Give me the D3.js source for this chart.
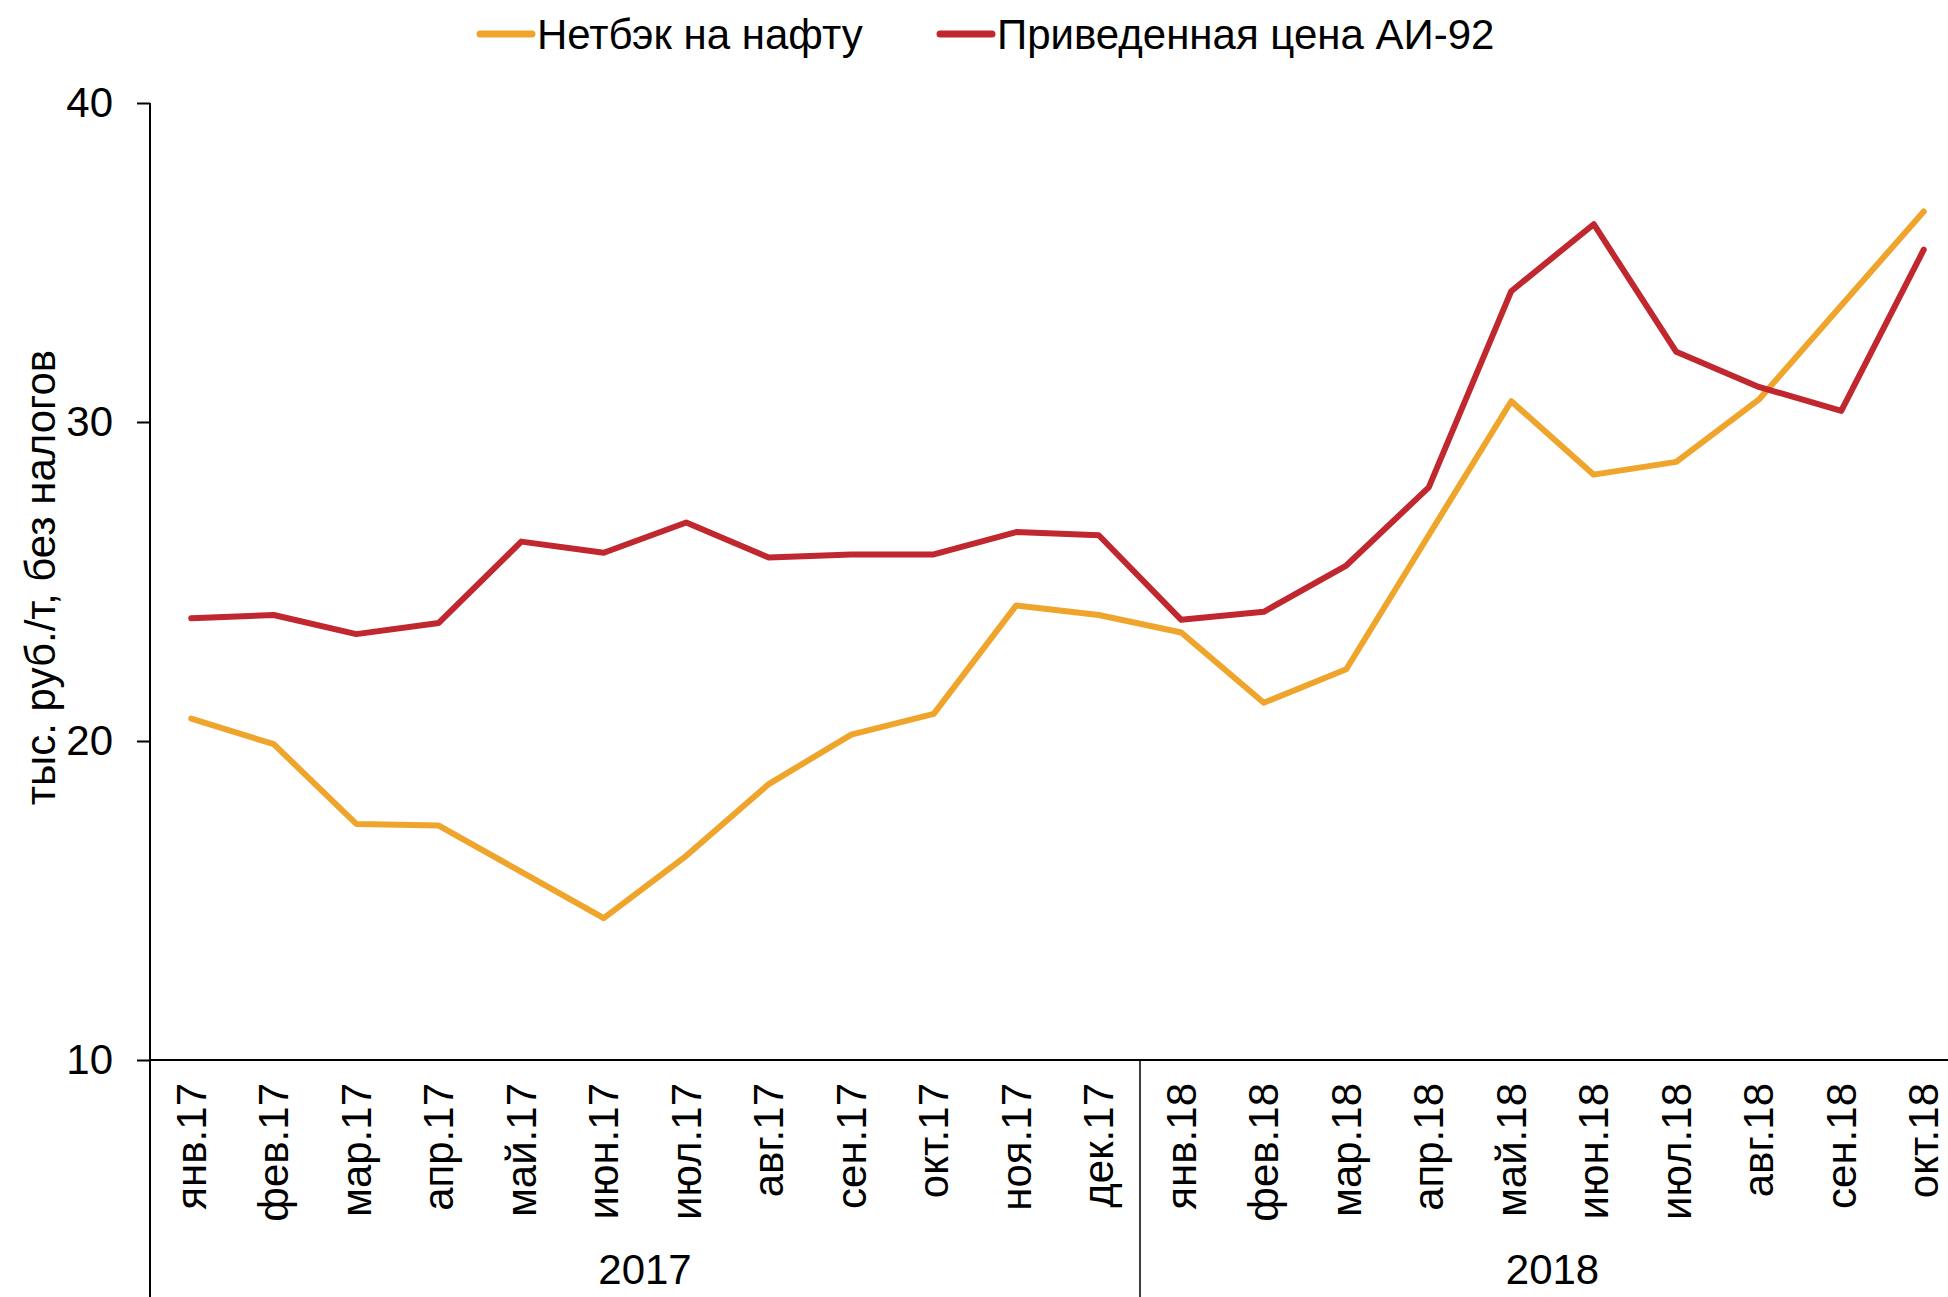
<!DOCTYPE html>
<html>
<head>
<meta charset="utf-8">
<script src="https://cdn.jsdelivr.net/npm/d3@7"></script>
<style>
  html, body { margin: 0; padding: 0; background: #fff; }
  svg { display: block; font-family: "Liberation Sans", Arial, sans-serif; }
</style>
</head>
<body>
<svg id="chart" width="1948" height="1297"></svg>
<script>
// Month labels along the x axis
const months = [
  'янв.17', 'фев.17', 'мар.17', 'апр.17', 'май.17', 'июн.17',
  'июл.17', 'авг.17', 'сен.17', 'окт.17', 'ноя.17', 'дек.17',
  'янв.18', 'фев.18', 'мар.18', 'апр.18', 'май.18', 'июн.18',
  'июл.18', 'авг.18', 'сен.18', 'окт.18',
];
// Year groups under the months
const years = ['2017', '2018'];
const yearMonths = [12, 10];

// Series values, тыс. руб./т
const netback = [
  20.7, 19.9, 17.4, 17.35, 15.9, 14.45, 16.4, 18.65, 20.2, 20.85, 24.25, 23.95,
  23.4, 21.2, 22.25, 26.45, 30.65, 28.35, 28.75, 30.7, 33.65, 36.6,
];
const ai92 = [
  23.85, 23.95, 23.35, 23.7, 26.25, 25.9, 26.85, 25.75, 25.85, 25.85, 26.55, 26.45,
  23.8, 24.05, 25.5, 27.95, 34.1, 36.2, 32.2, 31.1, 30.35, 35.4,
];
const yTicks = [10, 20, 30, 40];

const series = [
  { name: 'Нетбэк на нафту', values: netback, color: '#EFA52C' },
  { name: 'Приведенная цена АИ-92', values: ai92, color: '#C0272F' },
];

const svg = d3.select('#chart');
const font = 42;

// Scales
const left = 150;
const step = 82.5;
const x = d3.scaleBand()
  .domain(months)
  .range([left, left + step * months.length])
  .padding(0);
const y = d3.scaleLinear().domain([10, 40]).range([1060, 103]);

// Y axis
const yAxis = svg.append('g')
  .attr('transform', `translate(${left},0)`)
  .call(d3.axisLeft(y).tickValues(yTicks).tickSize(13).tickPadding(24).tickSizeOuter(0));
yAxis.select('.domain').remove();
yAxis.selectAll('.tick line').attr('stroke', '#000').attr('stroke-width', 2);
yAxis.selectAll('.tick text')
  .attr('font-size', font)
  .attr('fill', '#000')
  .attr('font-family', '"Liberation Sans", Arial, sans-serif');

// vertical axis line runs to the bottom of the image
svg.append('line')
  .attr('x1', left).attr('x2', left)
  .attr('y1', y(40)).attr('y2', 1297)
  .attr('stroke', '#000').attr('stroke-width', 2);

// X axis line at the bottom of the value range
svg.append('line')
  .attr('x1', left).attr('x2', x.range()[1])
  .attr('y1', y(10)).attr('y2', y(10))
  .attr('stroke', '#000').attr('stroke-width', 2);

// Month labels, rotated
svg.append('g')
  .selectAll('text')
  .data(months)
  .join('text')
  .attr('transform', d => `translate(${x(d) + x.bandwidth() / 2},1083) rotate(-90)`)
  .attr('text-anchor', 'end')
  .attr('dominant-baseline', 'central')
  .attr('font-size', font)
  .text(d => d);

// Year groups and dividers
let start = 0;
years.forEach((yr, i) => {
  const x0 = x(months[start]);
  const end = start + yearMonths[i];
  const x1 = x(months[end - 1]) + x.bandwidth();
  svg.append('line')
    .attr('x1', x1).attr('x2', x1)
    .attr('y1', y(10)).attr('y2', 1297)
    .attr('stroke', '#000').attr('stroke-width', 1.5);
  svg.append('text')
    .attr('x', (x0 + x1) / 2)
    .attr('y', 1284)
    .attr('text-anchor', 'middle')
    .attr('font-size', font)
    .text(yr);
  start = end;
});

// Y axis title
svg.append('text')
  .attr('transform', `translate(40,${(y(40) + y(10)) / 2 - 4}) rotate(-90)`)
  .attr('text-anchor', 'middle')
  .attr('dominant-baseline', 'central')
  .attr('font-size', font)
  .text('тыс. руб./т, без налогов');

// Lines
const line = d3.line()
  .x((d, i) => x(months[i]) + x.bandwidth() / 2)
  .y(d => y(d));

series.forEach((s) => {
  svg.append('path')
    .datum(s.values)
    .attr('d', line)
    .attr('fill', 'none')
    .attr('stroke', s.color)
    .attr('stroke-width', 6)
    .attr('stroke-linejoin', 'round')
    .attr('stroke-linecap', 'round');
});

// Legend
const legendX = [480, 940];
series.forEach((s, i) => {
  const g = svg.append('g').attr('transform', `translate(${legendX[i]},34)`);
  g.append('line')
    .attr('x1', 0).attr('x2', 52)
    .attr('stroke', s.color)
    .attr('stroke-width', 7)
    .attr('stroke-linecap', 'round');
  g.append('text')
    .attr('x', 57)
    .attr('dominant-baseline', 'central')
    .attr('font-size', font)
    .text(s.name);
});
</script>
</body>
</html>
